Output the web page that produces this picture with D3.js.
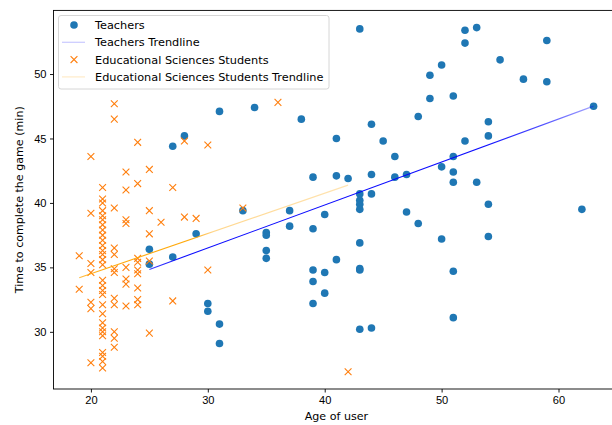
<!DOCTYPE html>
<html lang="en">
<head>
  <meta charset="UTF-8">
  <title>Age of user vs time to complete the game</title>
  <script src="https://d3js.org/d3.v7.min.js"></script>
  <style>
    body { margin: 0; background: #fff; }
    svg { display: block; font-family: "DejaVu Sans", sans-serif; }
    .axis text { font-size: 11.1px; fill: #000; }
    .axis path, .axis line { stroke: #000; stroke-width: 0.9px; }
    .legend text { font-size: 11.3px; fill: #000; }
  </style>
</head>
<body>
  <svg width="612" height="425"></svg>
  <script>
    // Teachers: age and minutes
    const teacherAge = [25, 25, 27, 27, 28, 29, 30, 30, 31, 31, 31, 33, 34, 35, 35, 35, 35, 37, 37, 38,
      39, 39, 39, 39, 39, 40, 40, 40, 41, 41, 41, 42, 43, 43, 43, 43, 43, 43, 43, 43, 43,
      44, 44, 44, 44, 45, 46, 46, 47, 47, 48, 48, 49, 49, 50, 50, 50, 51, 51, 51, 51, 51, 51,
      52, 52, 52, 53, 53, 54, 54, 54, 54, 55, 57, 59, 59, 62, 63];
    const teacherTime = [36.4, 35.25, 35.8, 44.4, 45.2, 37.6, 32.2, 31.6, 47.1, 30.6, 29.1, 39.4, 47.4,
      37.7, 37.5, 36.3, 35.7, 39.4, 38.2, 46.5, 42.0, 38.0, 34.8, 33.9, 32.2, 39.1, 34.6, 33.0,
      45.0, 42.1, 35.6, 41.9, 53.5, 40.7, 40.2, 39.9, 39.5, 36.9, 34.9, 34.8, 30.2,
      46.1, 42.2, 40.7, 30.3, 44.8, 43.6, 42.0, 42.2, 39.3, 46.7, 38.4, 49.9, 48.1, 50.7, 42.8, 37.2,
      48.3, 43.6, 42.4, 41.6, 34.7, 31.1, 53.4, 52.4, 44.8, 53.6, 41.6, 46.3, 45.2, 39.9, 37.4,
      51.1, 49.6, 52.6, 49.4, 39.5, 47.5];

    // Educational sciences students
    const studentAge = [19, 19,
      20, 20, 20, 20, 20, 20, 20,
      21, 21, 21, 21, 21, 21, 21, 21, 21, 21, 21, 21, 21, 21, 21, 21, 21, 21, 21, 21, 21, 21, 21, 21, 21, 21, 21, 21, 21,
      22, 22, 22, 22, 22, 22, 22, 22, 22, 22, 22, 22,
      23, 23, 23, 23, 23, 23, 23, 23,
      24, 24, 24, 24, 24, 24, 24, 24, 24,
      25, 25, 25, 25, 25,
      26, 27, 27, 28, 28, 29, 30, 30, 33, 36, 42];
    const studentTime = [35.9, 33.3,
      43.6, 39.2, 35.3, 34.6, 32.3, 31.8, 27.6,
      41.2, 40.3, 40.0, 39.4, 39.0, 38.7, 38.3, 37.9, 37.5, 37.1, 36.7, 36.3, 36.0, 35.6, 35.2,
      34.0, 33.6, 33.2, 32.9, 32.1, 31.4, 30.7, 30.3, 30.0, 29.7, 28.4, 28.1, 27.7, 27.2,
      47.7, 46.5, 39.6, 36.5, 36.0, 34.9, 34.6, 32.6, 32.1, 30.0, 29.5, 28.8,
      42.4, 41.0, 38.7, 38.4, 35.0, 34.1, 33.7, 32.0,
      44.7, 41.5, 35.7, 35.4, 34.8, 34.5, 33.4, 32.5, 32.1,
      42.6, 39.4, 37.6, 35.5, 29.9,
      38.5, 41.2, 32.4, 44.8, 38.9, 38.8, 44.5, 34.8, 39.6, 47.8, 26.9];

    // Trendline end points
    const teacherTrendAge = [25, 63];
    const teacherTrendTime = [34.84, 47.51];
    const studentTrendAge = [19, 42];
    const studentTrendTime = [34.19, 41.38];

    const xTicks = [20, 30, 40, 50, 60];
    const yTicks = [30, 35, 40, 45, 50];

    const legendLabels = ["Teachers", "Teachers Trendline",
      "Educational Sciences Students", "Educational Sciences Students Trendline"];

    const blue = "#1f77b4", orange = "#ff7f0e";

    const teachers = teacherAge.map((a, i) => ({ age: a, time: teacherTime[i] }));
    const students = studentAge.map((a, i) => ({ age: a, time: studentTime[i] }));

    const svg = d3.select("svg");
    const pLeft = 53.5, pRight = 619.3, pTop = 10.4, pBottom = 389;

    // matplotlib style 5% margins around the data
    const allAge = teacherAge.concat(studentAge);
    const allTime = teacherTime.concat(studentTime);
    const [ax0, ax1] = d3.extent(allAge);
    const [ty0, ty1] = d3.extent(allTime);
    const x = d3.scaleLinear()
      .domain([ax0 - (ax1 - ax0) * 0.05, ax1 + (ax1 - ax0) * 0.05])
      .range([pLeft, pRight]);
    const y = d3.scaleLinear()
      .domain([ty0 - (ty1 - ty0) * 0.05, ty1 + (ty1 - ty0) * 0.05])
      .range([pBottom, pTop]);

    svg.append("rect").attr("width", 612).attr("height", 425).attr("fill", "#fff");

    // gradients: trendlines look darker where the data are dense
    const defs = svg.append("defs");
    function grad(id, color, x0, x1, stops) {
      const g = defs.append("linearGradient").attr("id", id)
        .attr("gradientUnits", "userSpaceOnUse")
        .attr("x1", x0).attr("x2", x1).attr("y1", 0).attr("y2", 0);
      stops.forEach(s => g.append("stop").attr("offset", s[0])
        .attr("stop-color", color).attr("stop-opacity", s[1]));
    }
    grad("gBlue", "#0000ff", x(teacherTrendAge[0]), x(teacherTrendAge[1]),
      [[0, 0.75], [0.08, 0.95], [0.75, 0.95], [0.88, 0.7], [1, 0.35]]);
    grad("gOrange", "#ffa500", x(studentTrendAge[0]), x(studentTrendAge[1]),
      [[0, 0.75], [0.1, 0.95], [0.42, 0.95], [0.5, 0.45], [1, 0.3]]);

    const plot = svg.append("g");

    plot.selectAll("circle.teacher")
      .data(teachers)
      .enter()
      .append("circle")
      .attr("class", "teacher")
      .attr("cx", d => x(d.age))
      .attr("cy", d => y(d.time))
      .attr("r", 3.8)
      .attr("fill", blue);

    const line = d3.line().x(d => x(d[0])).y(d => y(d[1]));

    plot.append("path")
      .datum(teacherTrendAge.map((a, i) => [a, teacherTrendTime[i]]))
      .attr("d", line)
      .attr("fill", "none")
      .attr("stroke", "url(#gBlue)")
      .attr("stroke-width", 1.1);

    const cross = 3.4;
    plot.selectAll("path.student")
      .data(students)
      .enter()
      .append("path")
      .attr("class", "student")
      .attr("d", d => {
        const cx = x(d.age), cy = y(d.time);
        return `M${cx - cross},${cy - cross}L${cx + cross},${cy + cross}M${cx - cross},${cy + cross}L${cx + cross},${cy - cross}`;
      })
      .attr("stroke", orange)
      .attr("stroke-width", 1.1)
      .attr("fill", "none");

    plot.append("path")
      .datum(studentTrendAge.map((a, i) => [a, studentTrendTime[i]]))
      .attr("d", line)
      .attr("fill", "none")
      .attr("stroke", "url(#gOrange)")
      .attr("stroke-width", 1.1);

    // axes
    const xAxis = svg.append("g")
      .attr("class", "axis")
      .attr("transform", `translate(0,${pBottom})`)
      .call(d3.axisBottom(x).tickValues(xTicks).tickFormat(d3.format("d"))
        .tickSizeInner(3.5).tickSizeOuter(0).tickPadding(3.5));
    xAxis.select(".domain").remove();

    const yAxis = svg.append("g")
      .attr("class", "axis")
      .attr("transform", `translate(${pLeft},0)`)
      .call(d3.axisLeft(y).tickValues(yTicks).tickFormat(d3.format("d"))
        .tickSizeInner(3.5).tickSizeOuter(0).tickPadding(3.5));
    yAxis.select(".domain").remove();

    // spines (right one falls outside the picture)
    svg.append("rect")
      .attr("x", pLeft).attr("y", pTop)
      .attr("width", pRight - pLeft).attr("height", pBottom - pTop)
      .attr("fill", "none").attr("stroke", "#000").attr("stroke-width", 0.9);

    svg.append("text")
      .attr("x", (pLeft + pRight) / 2)
      .attr("y", 420)
      .attr("text-anchor", "middle")
      .style("font-size", "11.1px")
      .text("Age of user");

    svg.append("text")
      .attr("transform", `translate(23,${(pTop + pBottom) / 2}) rotate(-90)`)
      .attr("text-anchor", "middle")
      .style("font-size", "11.1px")
      .text("Time to complete the game (min)");

    // legend
    const legend = svg.append("g").attr("class", "legend");
    legend.append("rect")
      .attr("x", 58.5).attr("y", 15.5)
      .attr("width", 270.5).attr("height", 73.5)
      .attr("rx", 2.5)
      .attr("fill", "#fff").attr("fill-opacity", 0.8)
      .attr("stroke", "#d6d6d6").attr("stroke-width", 1);

    const rowY = i => 25 + i * 17.3;
    legend.append("circle").attr("cx", 74).attr("cy", rowY(0)).attr("r", 3.8).attr("fill", blue);
    legend.append("line").attr("x1", 62).attr("x2", 85).attr("y1", rowY(1)).attr("y2", rowY(1))
      .attr("stroke", "#0000ff").attr("stroke-opacity", 0.2).attr("stroke-width", 1.3);
    legend.append("path")
      .attr("d", `M${74 - cross},${rowY(2) - cross}L${74 + cross},${rowY(2) + cross}M${74 - cross},${rowY(2) + cross}L${74 + cross},${rowY(2) - cross}`)
      .attr("stroke", orange).attr("stroke-width", 1.1);
    legend.append("line").attr("x1", 62).attr("x2", 85).attr("y1", rowY(3)).attr("y2", rowY(3))
      .attr("stroke", "#ffa500").attr("stroke-opacity", 0.2).attr("stroke-width", 1.3);

    legend.selectAll("text.lbl")
      .data(legendLabels)
      .enter()
      .append("text")
      .attr("class", "lbl")
      .attr("x", 95)
      .attr("y", (d, i) => rowY(i) + 4)
      .text(d => d);
  </script>
</body>
</html>
